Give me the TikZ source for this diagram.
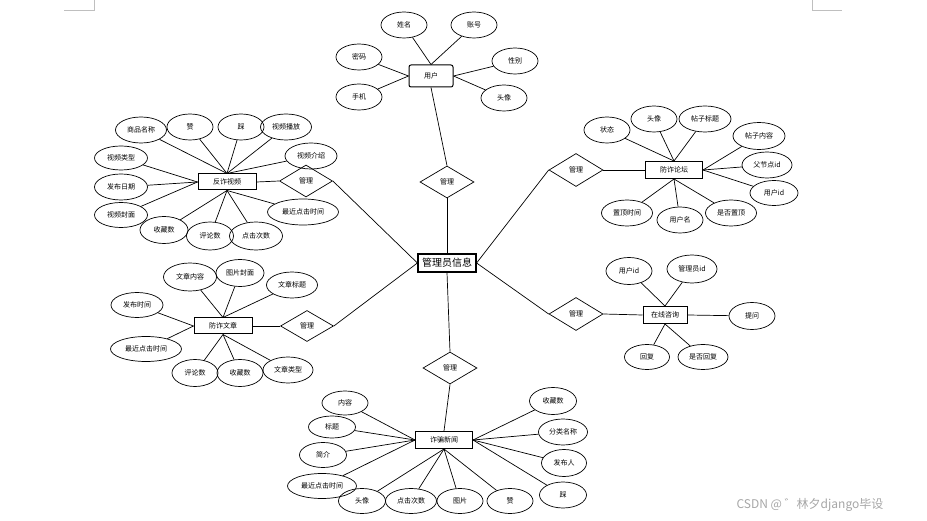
\documentclass[tikz,border=0pt]{standalone}
\usepackage{fontspec}
\setmainfont{Noto Sans CJK SC}
\usetikzlibrary{shapes.geometric}
\begin{document}
\begin{tikzpicture}[x=1pt,y=-1pt,
 attr/.style={draw, ellipse, line width=0.7pt, minimum width=46pt, minimum height=26pt, inner sep=0pt, font=\fontsize{7}{8}\selectfont},
 ent/.style={draw, rectangle, line width=1pt, minimum width=57pt, minimum height=17pt, inner sep=0pt, font=\fontsize{7}{8}\selectfont},
 rel/.style={draw, diamond, line width=0.7pt, minimum width=54pt, minimum height=32pt, inner sep=0pt, font=\fontsize{7}{8}\selectfont},
 link/.style={line width=0.7pt},
 pagemark/.style={draw=black!25, line width=0.6pt}]
\useasboundingbox (0,0) rectangle (927,521);
% page corner marks
\coordinate (m1) at (64,10); \coordinate (m2) at (94,10); \coordinate (m3) at (94,0);
\coordinate (m4) at (812,0); \coordinate (m5) at (812,10); \coordinate (m6) at (842,10);
\draw[pagemark] (m1) -- (m2) -- (m3);
\draw[pagemark] (m4) -- (m5) -- (m6);

% center
\node[ent, line width=1.2pt, minimum width=58pt, minimum height=18pt, font=\fontsize{10}{12}\selectfont] (admin) at (447,263) {管理员信息};
\node[rel] (rTop) at (447,182) {管理};
\node[rel] (rBot) at (450,368) {管理};
\node[rel, minimum width=53pt] (rLT) at (306,181) {管理};
\node[rel, minimum width=53pt, minimum height=31pt] (rLM) at (307,326) {管理};
\node[rel, minimum height=33pt] (rRT) at (576,170) {管理};
\node[rel, minimum height=33pt] (rRM) at (576,314) {管理};

% user
\node[ent, rounded corners=2pt, minimum width=44pt, minimum height=22pt] (user) at (431,76) {用户};
\node[attr] (u1) at (404,25) {姓名};
\node[attr] (u2) at (474,25) {账号};
\node[attr] (u3) at (359,57) {密码};
\node[attr] (u4) at (515,61) {性别};
\node[attr] (u5) at (359,97) {手机};
\node[attr] (u6) at (504,98) {头像};

% video
\node[ent, minimum width=58pt, minimum height=16pt] (video) at (227,182) {反诈视频};
\node[attr, minimum width=51pt] (v1) at (141,130) {商品名称};
\node[attr] (v2) at (190,127) {赞};
\node[attr] (v3) at (241,127) {踩};
\node[attr, minimum width=51pt] (v4) at (286,127) {视频播放};
\node[attr, minimum width=52pt] (v5) at (311,156) {视频介绍};
\node[attr, minimum width=53pt, minimum height=24pt] (v6) at (121,158) {视频类型};
\node[attr, minimum width=53pt] (v7) at (121,187) {发布日期};
\node[attr, minimum width=53pt, minimum height=25pt] (v8) at (121,215) {视频封面};
\node[attr, minimum width=48pt, minimum height=27pt] (v9) at (164,230) {收藏数};
\node[attr, minimum width=47pt, minimum height=28pt] (v10) at (210,236) {评论数};
\node[attr, minimum width=53pt, minimum height=28pt] (v11) at (256,236) {点击次数};
\node[attr, minimum width=71pt] (v12) at (303,212) {最近点击时间};

% forum
\node[ent] (forum) at (674,170) {防诈论坛};
\node[attr] (f1) at (607,130) {状态};
\node[attr] (f2) at (654,119) {头像};
\node[attr, minimum width=52pt] (f3) at (705,119) {帖子标题};
\node[attr, minimum width=52pt, minimum height=27pt] (f4) at (759,136) {帖子内容};
\node[attr, minimum width=50pt] (f5) at (767,165) {父节点id};
\node[attr, minimum width=48pt, minimum height=25pt] (f6) at (774,193) {用户id};
\node[attr, minimum width=51pt] (f7) at (731,213) {是否置顶};
\node[attr] (f8) at (680,220) {用户名};
\node[attr, minimum width=51pt] (f9) at (627,213) {置顶时间};

% article
\node[ent, minimum width=58pt, minimum height=16pt] (article) at (223,326) {防诈文章};
\node[attr, minimum width=53pt, minimum height=28pt] (a1) at (190,277) {文章内容};
\node[attr, minimum width=48pt, minimum height=27pt] (a2) at (240,273) {图片封面};
\node[attr, minimum width=51pt] (a3) at (292,285) {文章标题};
\node[attr, minimum width=52pt, minimum height=25pt] (a4) at (137,305) {发布时间};
\node[attr, minimum width=71pt, minimum height=25pt] (a5) at (146,349) {最近点击时间};
\node[attr, minimum height=27pt] (a6) at (195,373) {评论数};
\node[attr, minimum height=27pt] (a7) at (240,373) {收藏数};
\node[attr, minimum width=50pt] (a8) at (288,370) {文章类型};

% consult
\node[ent, minimum width=44pt] (consult) at (665,315) {在线咨询};
\node[attr, minimum height=27pt] (c1) at (629,271) {用户id};
\node[attr, minimum width=50pt, minimum height=28pt] (c2) at (692,269) {管理员id};
\node[attr, minimum height=27pt] (c3) at (752,316) {提问};
\node[attr, minimum width=45pt, minimum height=25pt] (c4) at (647,357) {回复};
\node[attr, minimum width=50pt, minimum height=25pt] (c5) at (703,357) {是否回复};

% news
\node[ent] (news) at (444,440) {诈骗新闻};
\node[attr, minimum height=24pt] (n1) at (345,403) {内容};
\node[attr, minimum width=47pt, minimum height=22pt] (n2) at (332,427) {标题};
\node[attr, minimum width=47pt, minimum height=25pt] (n3) at (323,455) {简介};
\node[attr, minimum width=47pt, minimum height=25pt] (n5) at (362,501) {头像};
\node[attr, minimum width=69pt, minimum height=25pt] (n4) at (322,486) {最近点击时间};
\node[attr, minimum width=51pt, minimum height=25pt] (n6) at (411,501) {点击次数};
\node[attr, minimum height=25pt] (n7) at (460,501) {图片};
\node[attr, minimum height=25pt] (n8) at (510,501) {赞};
\node[attr, minimum width=47pt] (n9) at (563,495) {踩};
\node[attr, minimum width=45pt, minimum height=27pt] (n10) at (564,463) {发布人};
\node[attr, minimum width=49pt] (n11) at (563,432) {分类名称};
\node[attr, minimum width=47pt, minimum height=27pt] (n12) at (553,401) {收藏数};

% attribute links (to the side of the entity they face)
\foreach \a in {u1,u2} \draw[link] (\a) -- (user.north);
\foreach \a in {u3,u5} \draw[link] (\a) -- (user.west);
\foreach \a in {u4,u6} \draw[link] (\a) -- (user.east);
\foreach \a in {v1,v2,v3,v4,v5} \draw[link] (\a) -- (video.north);
\foreach \a in {v6,v7,v8} \draw[link] (\a) -- (video.west);
\foreach \a in {v9,v10,v11,v12} \draw[link] (\a) -- (video.south);
\foreach \a in {f1,f2,f3} \draw[link] (\a) -- (forum.north);
\foreach \a in {f4,f5,f6} \draw[link] (\a) -- (forum.east);
\foreach \a in {f7,f8,f9} \draw[link] (\a) -- (forum.south);
\foreach \a in {a1,a2,a3} \draw[link] (\a) -- (article.north);
\foreach \a in {a4,a5} \draw[link] (\a) -- (article.west);
\foreach \a in {a6,a7,a8} \draw[link] (\a) -- (article.south);
\foreach \a in {c1,c2} \draw[link] (\a) -- (consult.north);
\draw[link] (c3) -- (consult.east);
\foreach \a in {c4,c5} \draw[link] (\a) -- (consult.south);
\foreach \a in {n1,n2,n3,n4} \draw[link] (\a) -- (news.west);
\foreach \a in {n5,n6,n7,n8} \draw[link] (\a) -- (news.south);
\foreach \a in {n9,n10,n11,n12} \draw[link] (\a) -- (news.east);

% relationship links
\draw[link] (user.south) -- (rTop.north);
\draw[link] (rTop.south) -- (admin.north);
\draw[link] (admin.south) -- (rBot.north);
\draw[link] (rBot.south) -- (news.north);
\draw[link] (video.east) -- (rLT.west);
\draw[link] (rLT.east) -- (admin.west);
\draw[link] (article.east) -- (rLM.west);
\draw[link] (rLM.east) -- (admin.west);
\draw[link] (forum.west) -- (rRT.east);
\draw[link] (rRT.west) -- (admin.east);
\draw[link] (consult.west) -- (rRM.east);
\draw[link] (rRM.west) -- (admin.east);

% watermark
\node[text=black!35, font=\fontsize{12}{14}\selectfont, inner sep=0pt] (wm) at (810,505) {CSDN @ ゛林夕django毕设};
\end{tikzpicture}
\end{document}
